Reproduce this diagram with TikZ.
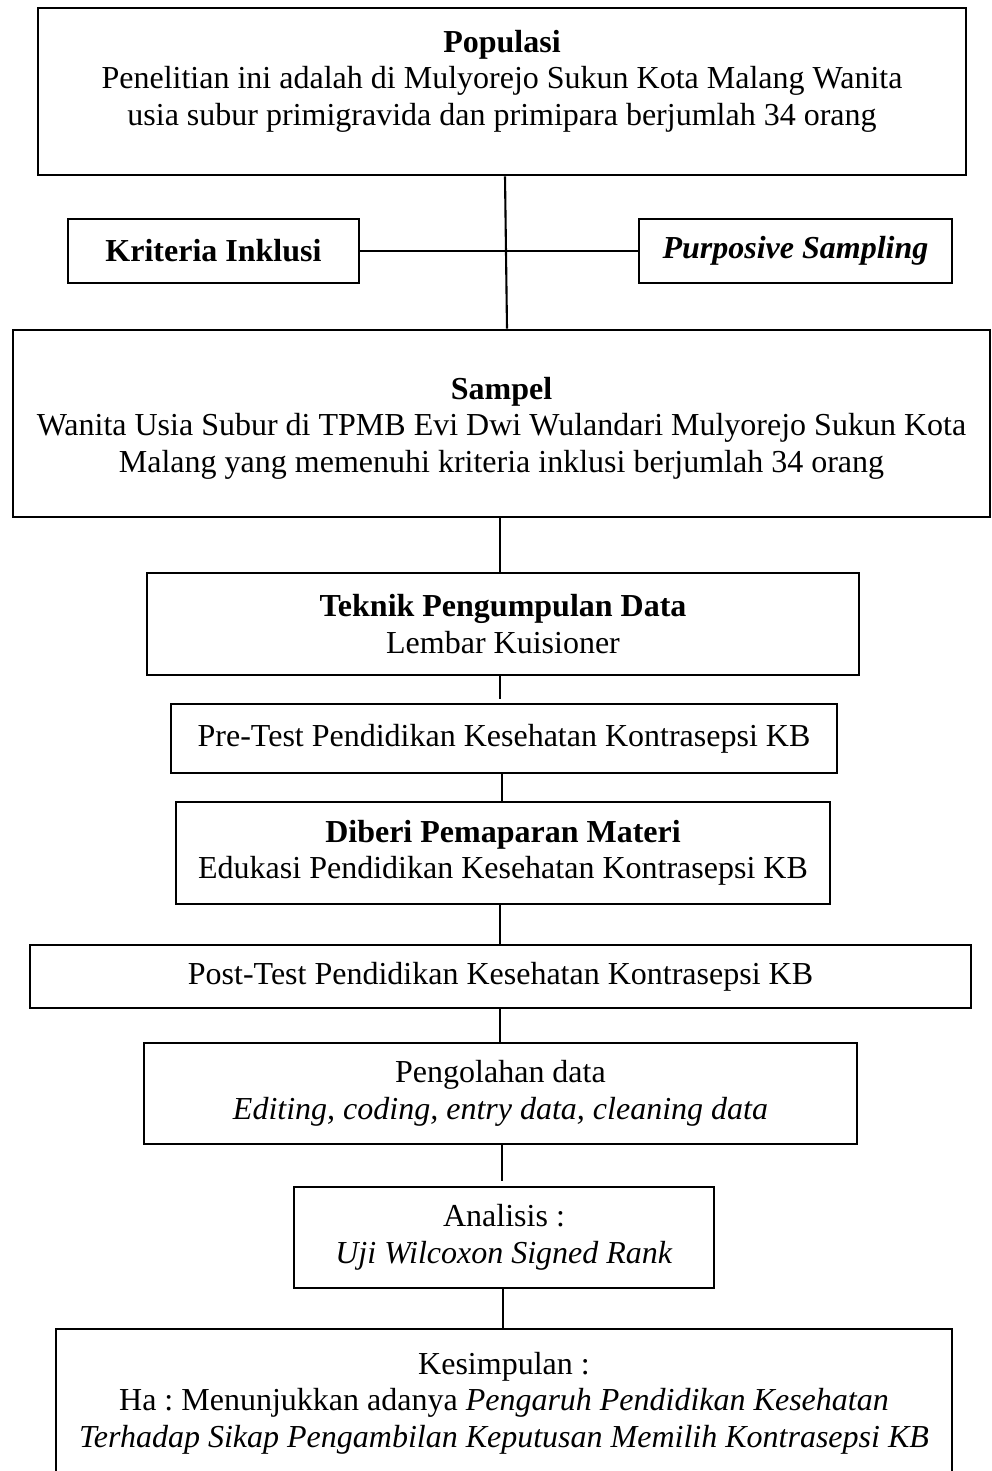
\documentclass[tikz,border=0pt]{standalone}
\usepackage{fontspec}
\setmainfont{Liberation Serif}
\frenchspacing
\begin{document}
\begin{tikzpicture}[x=1pt,y=-1pt,
  box/.style={draw, line width=2.8pt, inner sep=0pt, align=center,
    font=\fontsize{32}{36.5}\selectfont},
  txt/.style={inner sep=0pt, align=center, font=\fontsize{32}{36.5}\selectfont},
  conn/.style={line width=2.1pt}]
\useasboundingbox (0,0) rectangle (992,1471);
\fill[white] (0,0) rectangle (992,1471);

\node[box, minimum width=928pt, minimum height=167pt] (pop) at (502,91.5) {};
\node[txt] (poptext) at (502,81) {\textbf{Populasi}\\Penelitian ini adalah di Mulyorejo Sukun Kota Malang Wanita\\usia subur primigravida dan primipara berjumlah 34 orang};

\node[box, minimum width=291pt, minimum height=64pt] (kri) at (213.5,251) {\textbf{Kriteria Inklusi}};
\node[box, minimum width=313pt, minimum height=64pt] (pur) at (795.5,251) {\textbf{\textit{Purposive Sampling}}};

\node[box, minimum width=977pt, minimum height=187pt] (sam) at (501.5,423.5) {};
\node[txt] (samtext) at (501.5,428) {\textbf{Sampel}\\Wanita Usia Subur di TPMB Evi Dwi Wulandari Mulyorejo Sukun Kota\\Malang yang memenuhi kriteria inklusi berjumlah 34 orang};

\node[box, minimum width=712pt, minimum height=102pt] (tek) at (503,624) {\textbf{Teknik Pengumpulan Data}\\Lembar Kuisioner};

\node[box, minimum width=666pt, minimum height=69pt] (pre) at (504,738.5) {Pre-Test Pendidikan Kesehatan Kontrasepsi KB};

\node[box, minimum width=654pt, minimum height=102pt] (dib) at (503,853) {\textbf{Diberi Pemaparan Materi}\\Edukasi Pendidikan Kesehatan Kontrasepsi KB};

\node[box, minimum width=941pt, minimum height=63pt] (post) at (500.5,976.5) {Post-Test Pendidikan Kesehatan Kontrasepsi KB};

\node[box, minimum width=713pt, minimum height=101pt] (peng) at (500.5,1093.5) {Pengolahan data\\\textit{Editing, coding, entry data, cleaning data}};

\node[box, minimum width=420pt, minimum height=101pt] (ana) at (504,1237.5) {Analisis :\\\textit{Uji Wilcoxon Signed Rank}};

\node[box, minimum width=896pt, minimum height=148pt] (kes) at (504,1403) {Kesimpulan :\\Ha : Menunjukkan adanya \textit{Pengaruh Pendidikan Kesehatan}\\\textit{Terhadap Sikap Pengambilan Keputusan Memilih Kontrasepsi KB}};

\draw[conn] ([xshift=3pt]pop.south) -- ([xshift=5.5pt]sam.north);
\draw[conn] (kri.east) -- (pur.west);
\draw[conn] ([xshift=-1.5pt]sam.south) -- ([xshift=-3pt]tek.north);
\draw[conn, shorten >=4pt] ([xshift=-3pt]tek.south) -- ([xshift=-4pt]pre.north);
\draw[conn] ([xshift=-2pt]pre.south) -- ([xshift=-1pt]dib.north);
\draw[conn] ([xshift=-3pt]dib.south) -- ([xshift=-0.5pt]post.north);
\draw[conn] ([xshift=-0.5pt]post.south) -- ([xshift=-0.5pt]peng.north);
\draw[conn, shorten >=5pt] ([xshift=1.5pt]peng.south) -- ([xshift=-2pt]ana.north);
\draw[conn] ([xshift=-1pt]ana.south) -- ([xshift=-1pt]kes.north);
\end{tikzpicture}
\end{document}
